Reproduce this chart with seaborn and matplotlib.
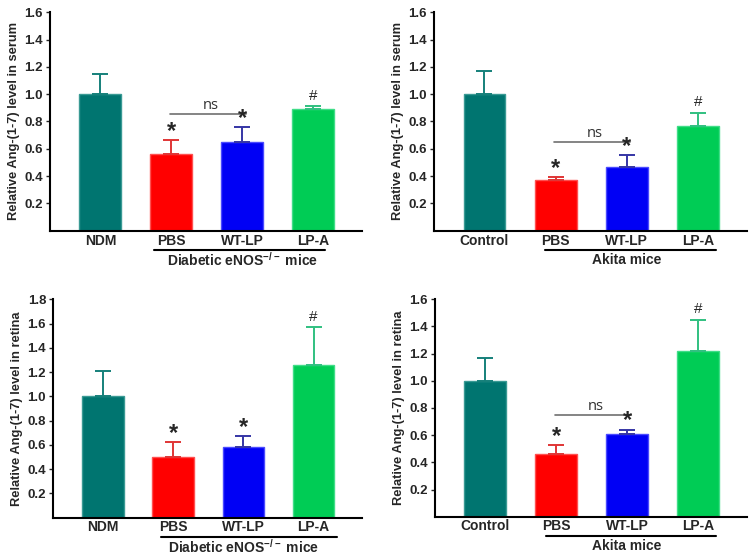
import seaborn as sns
import matplotlib.pyplot as plt
import pandas as pd

sns.set_style("white")
plt.rcParams['font.family'] = ['Liberation Sans', 'DejaVu Sans']
plt.rcParams['mathtext.fontset'] = 'custom'
plt.rcParams['mathtext.rm'] = 'Liberation Sans:bold'
plt.rcParams['mathtext.bf'] = 'Liberation Sans:bold'

groups_enos = ['NDM', 'PBS', 'WT-LP', 'LP-A']
groups_akita = ['Control', 'PBS', 'WT-LP', 'LP-A']

serum_enos = [1.00, 0.56, 0.65, 0.89]
serum_enos_err = [0.15, 0.105, 0.11, 0.025]
serum_akita = [1.00, 0.37, 0.47, 0.77]
serum_akita_err = [0.17, 0.02, 0.085, 0.095]
retina_enos = [1.00, 0.50, 0.58, 1.26]
retina_enos_err = [0.21, 0.12, 0.09, 0.31]
retina_akita = [1.00, 0.46, 0.61, 1.22]
retina_akita_err = [0.17, 0.065, 0.03, 0.23]

bar_colors = ['#007570', '#ff0000', '#0000f5', '#00cc55']
edge_colors = ['#3a9a94', '#ff5050', '#4a4aff', '#40dd88']
err_colors = ['#15807a', '#e03535', '#3535a5', '#30c080']

# marker above each bar ('' for none)
marks = ['', '*', '*', '#']


def panel(rect, cats, vals, errs, ymax, ylabel, group_label, bracket, ns_y=None):
    ax = fig.add_axes(rect)
    df = pd.DataFrame({'group': cats, 'value': vals})
    sns.barplot(data=df, x='group', y='value', hue='group', order=cats,
                palette=bar_colors, width=0.59, ax=ax, legend=False,
                saturation=1, linewidth=1)
    for p, ec in zip(ax.patches, edge_colors):
        p.set_edgecolor(ec)
    for i in range(len(cats)):
        ax.errorbar(i, vals[i], yerr=[[0], [errs[i]]], fmt='none',
                    ecolor=err_colors[i], elinewidth=1.4, capsize=5.5, capthick=1.4)
        top = vals[i] + errs[i]
        if marks[i] == '*':
            ax.text(i, top - ymax * 0.012, '*', ha='center', va='bottom',
                    fontsize=17, fontweight='bold')
        elif marks[i] == '#':
            ax.text(i, top + ymax * 0.015, '#', ha='center', va='bottom',
                    fontsize=11)
    if ns_y is not None:
        ax.plot([0.98, 2.05], [ns_y, ns_y], color='#707070', lw=1.2)
        ax.text(1.55, ns_y + ymax * 0.005, 'ns', ha='center', va='bottom',
                fontsize=10.5, color='#303030', family=['Open Sans', 'DejaVu Sans'])
    ax.set_xlim(-0.71, 3.69)
    ax.set_ylim(0, ymax)
    ticks = [t / 10 for t in range(2, int(round(ymax * 10)) + 1, 2)]
    ax.set_yticks(ticks)
    ax.set_yticklabels([f'{t:.1f}' for t in ticks], fontsize=9.5, fontweight='bold')
    ax.set_xticks(range(len(cats)))
    ax.set_xticklabels(cats, fontsize=10, fontweight='bold')
    ax.tick_params(axis='x', length=0, pad=2)
    ax.tick_params(axis='y', length=3, width=1, pad=2, left=True, direction='out')
    ax.set_xlabel('')
    ax.set_ylabel(ylabel, fontsize=9.3, fontweight='bold', labelpad=3)
    for s in ['top', 'right']:
        ax.spines[s].set_visible(False)
    for s in ['left', 'bottom']:
        ax.spines[s].set_color('black')
        ax.spines[s].set_linewidth(1.5)
    # group bracket below the treated groups
    ax.plot(bracket, [-0.087, -0.087], transform=ax.get_xaxis_transform(),
            color='black', lw=1.5, clip_on=False)
    ax.text(2.0, -0.133, group_label, transform=ax.get_xaxis_transform(),
            ha='center', va='center', fontsize=10, fontweight='bold')
    return ax


fig = plt.figure(figsize=(7.5, 5.56), dpi=100)

enos_label = r'Diabetic eNOS$^{-/-}$ mice'
panel([0.0667, 0.585, 0.416, 0.393], groups_enos, serum_enos, serum_enos_err, 1.6,
      'Relative Ang-(1-7) level in serum', enos_label, [0.75, 3.17], ns_y=0.855)
panel([0.5787, 0.585, 0.417, 0.393], groups_akita, serum_akita, serum_akita_err, 1.6,
      'Relative Ang-(1-7) level in serum', 'Akita mice', [0.85, 3.25], ns_y=0.65)
panel([0.0707, 0.069, 0.412, 0.3926], groups_enos, retina_enos, retina_enos_err, 1.8,
      'Relative Ang-(1-7) level in retina', enos_label, [0.83, 3.34])
panel([0.58, 0.0707, 0.416, 0.391], groups_akita, retina_akita, retina_akita_err, 1.6,
      'Relative Ang-(1-7) level in retina', 'Akita mice', [0.85, 3.25], ns_y=0.75)

fig.savefig('out.png', dpi=100)
